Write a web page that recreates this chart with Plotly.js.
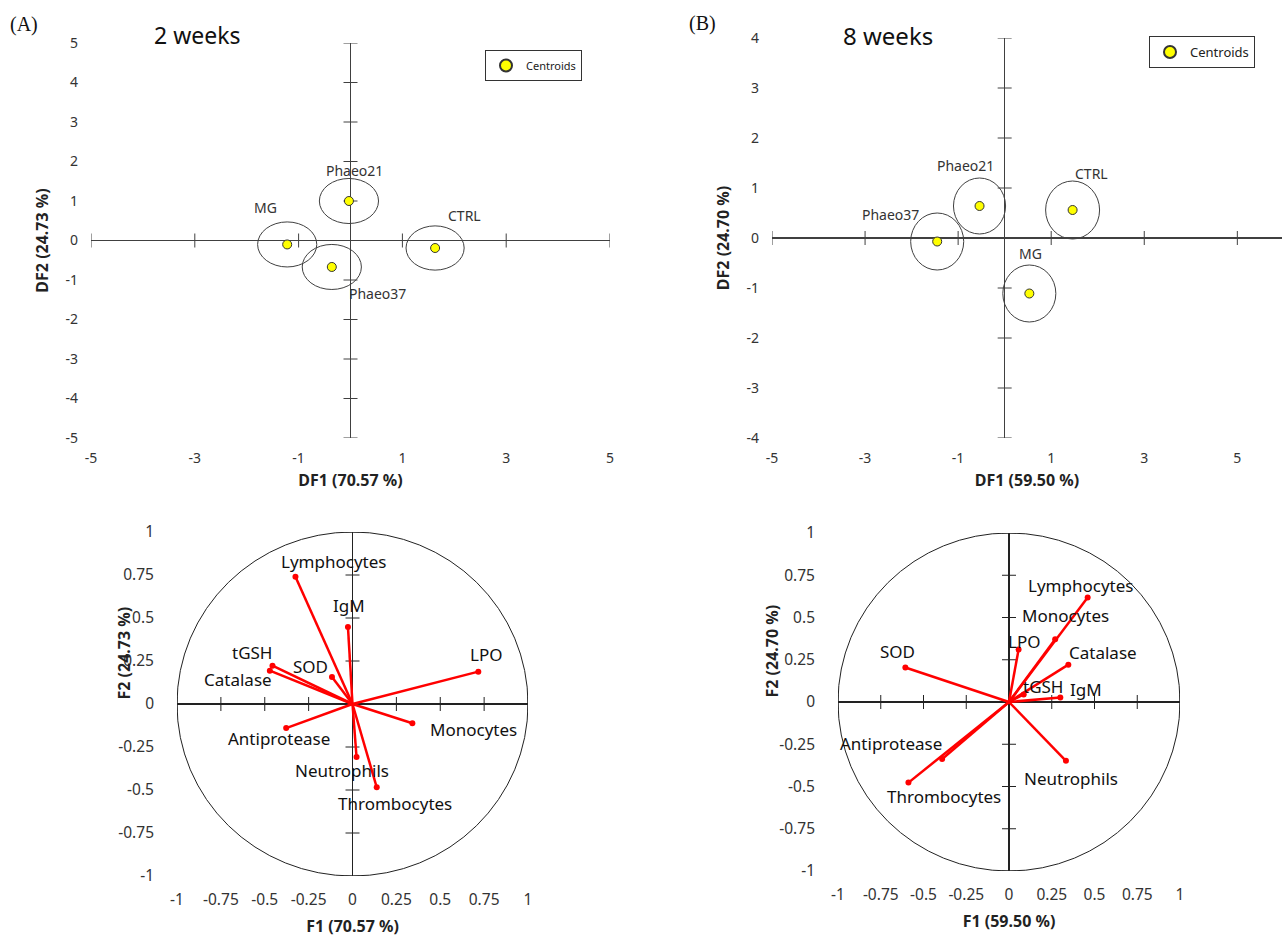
<!DOCTYPE html>
<html><head><meta charset="utf-8">
<script src="https://cdn.plot.ly/plotly-3.0.1.min.js"></script>
<style>html,body{margin:0;padding:0;background:#fff}#chart{width:1282px;height:940px}</style>
</head><body><div id="chart"></div>
<script>
// ---- Centroids (discriminant analysis) ----
const groupsA = ['MG','Phaeo21','Phaeo37','CTRL'];
const df1A = [-1.22,-0.03,-0.36,1.63];
const df2A = [-0.10,1.00,-0.67,-0.19];
const radiusA = [0.57,0.57,0.57,0.56];
const groupLabelXA = [-1.63,0.08,0.52,2.2];
const groupLabelYA = [0.84,1.76,-1.33,0.63];

const groupsB = ['Phaeo37','Phaeo21','CTRL','MG'];
const df1B = [-1.45,-0.54,1.46,0.53];
const df2B = [-0.07,0.64,0.56,-1.11];
const radiusB = [0.57,0.56,0.58,0.57];
const groupLabelXB = [-2.45,-0.85,1.87,0.55];
const groupLabelYB = [0.48,1.45,1.3,-0.3];

// ---- Correlation circles (variables) ----
const variables = ['Lymphocytes','IgM','tGSH','Catalase','SOD','LPO','Antiprotease','Monocytes','Neutrophils','Thrombocytes'];
const f1A = [-0.325,-0.026,-0.456,-0.471,-0.117,0.717,-0.378,0.341,0.023,0.138];
const f2A = [0.740,0.448,0.223,0.194,0.157,0.188,-0.140,-0.112,-0.308,-0.484];
const varLabelXA = [-0.11,-0.02,-0.57,-0.65,-0.24,0.76,-0.42,0.69,-0.06,0.24];
const varLabelYA = [0.83,0.57,0.30,0.14,0.22,0.29,-0.20,-0.15,-0.385,-0.58];

const f1B = [0.460,0.300,0.086,0.347,-0.606,0.056,-0.391,0.270,0.333,-0.588];
const f2B = [0.618,0.027,0.045,0.221,0.204,0.311,-0.337,0.372,-0.348,-0.477];
const varLabelXB = [0.42,0.45,0.20,0.55,-0.65,0.09,-0.69,0.33,0.36,-0.38];
const varLabelYB = [0.69,0.072,0.094,0.29,0.30,0.36,-0.245,0.51,-0.45,-0.56];

// ---- Tick values ----
const topXTicks = [-5,-3,-1,1,3,5];
const topAYTicks = [-5,-4,-3,-2,-1,0,1,2,3,4,5];
const topBYTicks = [-4,-3,-2,-1,0,1,2,3,4];
const circTicks = [-1,-0.75,-0.5,-0.25,0,0.25,0.5,0.75,1];
const circTickText = ['-1','-0.75','-0.5','-0.25','0','0.25','0.5','0.75','1'];

const W = 1282, H = 940;
const px = (a,b)=>[a/W,b/W];
const py = (top,bottom)=>[1-bottom/H,1-top/H];

const font = 'Noto Sans, Open Sans, Arial, sans-serif';
const axisCol = '#404040';
const traces = [];
const shapes = [];
const annotations = [];

function tickMarks(xa, ya, xs, ys, col){
  traces.push({x: xs.filter(v=>v!==0), y: xs.filter(v=>v!==0).map(()=>0), xaxis:xa, yaxis:ya, mode:'markers', type:'scatter',
    marker:{symbol:'line-ns', size:10, line:{width:1, color:col}}, showlegend:false, hoverinfo:'skip'});
  traces.push({x: ys.filter(v=>v!==0).map(()=>0), y: ys.filter(v=>v!==0), xaxis:xa, yaxis:ya, mode:'markers', type:'scatter',
    marker:{symbol:'line-ew', size:10, line:{width:1, color:col}}, showlegend:false, hoverinfo:'skip'});
}

function centroidPanel(xa, ya, gx, gy, rad, names, lx, ly, legendId){
  for (let i=0;i<gx.length;i++){
    shapes.push({type:'circle', xref:xa, yref:ya, x0:gx[i]-rad[i], x1:gx[i]+rad[i], y0:gy[i]-rad[i], y1:gy[i]+rad[i],
      line:{color:'#404040', width:1}});
    annotations.push({xref:xa, yref:ya, x:lx[i], y:ly[i], text:names[i], showarrow:false,
      font:{family:font, size:14, color:'#333'}});
  }
  traces.push({x:gx, y:gy, xaxis:xa, yaxis:ya, type:'scatter', mode:'markers', name:'Centroids', legend:legendId,
    marker:{color:'#FFFF00', size:9, line:{color:'#333', width:1}}, showlegend:true});
}

function circlePanel(xa, ya, fx, fy, lx, ly){
  shapes.push({type:'circle', xref:xa, yref:ya, x0:-1, x1:1, y0:-1, y1:1, line:{color:'#222', width:1}, layer:'below'});
  const lxs=[], lys=[];
  for (let i=0;i<fx.length;i++){ lxs.push(0,fx[i],null); lys.push(0,fy[i],null); }
  traces.push({x:lxs, y:lys, xaxis:xa, yaxis:ya, type:'scatter', mode:'lines', line:{color:'#FF0000', width:2.5}, showlegend:false, hoverinfo:'skip'});
  traces.push({x:fx, y:fy, xaxis:xa, yaxis:ya, type:'scatter', mode:'markers', marker:{color:'#FF0000', size:6}, showlegend:false, text:variables});
  for (let i=0;i<fx.length;i++){
    annotations.push({xref:xa, yref:ya, x:lx[i], y:ly[i], text:variables[i], showarrow:false,
      font:{family:font, size:17, color:'#111'}});
  }
}

tickMarks('x','y', topXTicks, topAYTicks, axisCol);
centroidPanel('x','y', df1A, df2A, radiusA, groupsA, groupLabelXA, groupLabelYA, 'legend');
tickMarks('x2','y2', topXTicks, topBYTicks, axisCol);
centroidPanel('x2','y2', df1B, df2B, radiusB, groupsB, groupLabelXB, groupLabelYB, 'legend2');
tickMarks('x3','y3', circTicks, circTicks, '#222');
circlePanel('x3','y3', f1A, f2A, varLabelXA, varLabelYA);
tickMarks('x4','y4', circTicks, circTicks, '#222');
circlePanel('x4','y4', f1B, f2B, varLabelXB, varLabelYB);

function axis(domain, range, tickvals, ticktext, anchor, titleText, standoff, size, zcol, lstand){
  return {domain:domain, range:range, anchor:anchor, tickvals:tickvals, ticktext:ticktext || tickvals.map(String),
    showgrid:false, showline:false, zeroline:true, zerolinecolor:zcol, zerolinewidth:1.3, ticks:'', ticklabelstandoff:lstand,
    tickfont:{family:font, size:size, color:'#333'}, fixedrange:true, automargin:false,
    title:{text:titleText, standoff:standoff, font:{family:font, size:16, color:'#222', weight:'bold'}}};
}

const titleFont = {family:font, size:16, color:'#222'};
const layout = {
  width:W, height:H, margin:{l:0,r:0,t:0,b:0}, paper_bgcolor:'#fff', plot_bgcolor:'rgba(0,0,0,0)',
  showlegend:true,
  xaxis: axis(px(91,610), [-5,5], topXTicks, null, 'y', '<b>DF1 (70.57 %)</b>', 8, 14, axisCol, 10),
  yaxis: axis(py(43,438), [-5,5], topAYTicks, null, 'x', '<b>DF2 (24.73 %)</b>', 12, 14, axisCol, 12),
  xaxis2: axis([772/W, 1], [-5, 5.96], topXTicks, null, 'y2', '<b>DF1 (59.50 %)</b>', 8, 14, axisCol, 10),
  yaxis2: axis(py(38,438), [-4,4], topBYTicks, null, 'x2', '<b>DF2 (24.70 %)</b>', 12, 14, axisCol, 12),
  xaxis3: axis(px(177,528), [-1,1], circTicks, circTickText, 'y3', '<b>F1 (70.57 %)</b>', 12, 15.5, '#222', 12),
  yaxis3: axis(py(532,876), [-1,1], circTicks, circTickText, 'x3', '', 0, 15.5, '#222', 22),
  xaxis4: axis(px(838,1180), [-1,1], circTicks, circTickText, 'y4', '<b>F1 (59.50 %)</b>', 12, 15.5, '#222', 12),
  yaxis4: axis(py(533,871), [-1,1], circTicks, circTickText, 'x4', '', 0, 15.5, '#222', 22),
  legend:{x:582/W, y:1-50/H, xanchor:'right', yanchor:'top', bordercolor:'#333', borderwidth:1, bgcolor:'#fff',
    font:{family:font, size:11, color:'#222'}, itemwidth:30, itemsizing:'constant'},
  legend2:{x:1255/W, y:1-36/H, xanchor:'right', yanchor:'top', bordercolor:'#333', borderwidth:1, bgcolor:'#fff',
    font:{family:font, size:13, color:'#222'}, itemwidth:30, itemsizing:'constant'},
  shapes: shapes,
  annotations: annotations.concat([
    {xref:'paper', yref:'paper', x:110/W, y:1-702/H, textangle:-90, text:'<b>F2 (24.73 %)</b>', showarrow:false, font:titleFont},
    {xref:'paper', yref:'paper', x:771/W, y:1-700/H, textangle:-90, text:'<b>F2 (24.70 %)</b>', showarrow:false, font:titleFont},
    {xref:'paper', yref:'paper', x:8/W, y:1-25/H, xanchor:'left', yanchor:'middle', text:'(A)', showarrow:false, font:{family:'Liberation Serif, Times New Roman, serif', size:20, color:'#111'}},
    {xref:'paper', yref:'paper', x:687/W, y:1-23/H, xanchor:'left', yanchor:'middle', text:'(B)', showarrow:false, font:{family:'Liberation Serif, Times New Roman, serif', size:20, color:'#111'}},
    {xref:'paper', yref:'paper', x:152/W, y:1-35/H, xanchor:'left', yanchor:'middle', text:'2 weeks', showarrow:false, font:{family:font, size:23, color:'#111'}},
    {xref:'paper', yref:'paper', x:841/W, y:1-35/H, xanchor:'left', yanchor:'middle', text:'8 weeks', showarrow:false, font:{family:font, size:24, color:'#111'}}
  ])
};

Plotly.newPlot('chart', traces, layout, {staticPlot:true, displayModeBar:false});
</script></body></html>
